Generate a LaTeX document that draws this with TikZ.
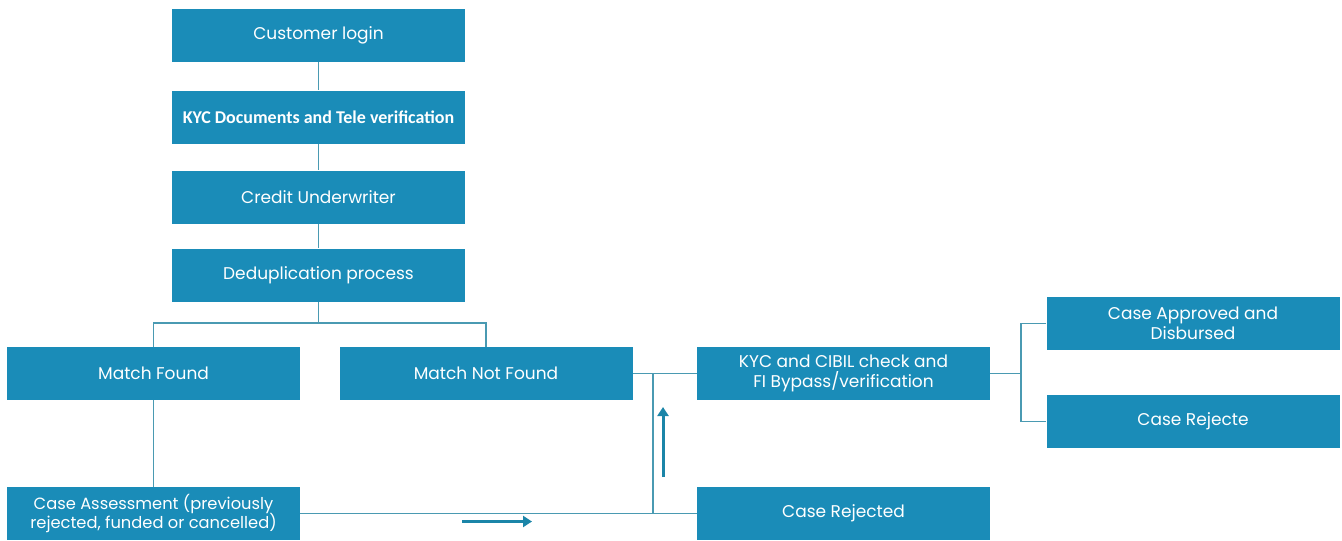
\documentclass[tikz,border=0pt]{standalone}
\usepackage{fontspec}
\setmainfont{Poppins}
\newfontfamily\calibri{Carlito}
\usetikzlibrary{arrows.meta}
\definecolor{cbox}{HTML}{1A8CB8}
\definecolor{cline}{HTML}{4A9AB2}
\definecolor{carrow}{HTML}{1B85A8}
\begin{document}
\begin{tikzpicture}[x=1pt, y=-1pt,
  stage/.style={fill=cbox, minimum width=293pt, minimum height=53pt, inner sep=0pt,
    text=white, align=center, font=\fontsize{17}{20}\selectfont},
  link/.style={cline, line width=1.3pt},
  hint/.style={carrow, line width=3pt, -{Triangle[length=9pt, width=11pt]}}]
  \useasboundingbox (0,0) rectangle (1342,541);
  % main column
  \node[stage] (login)  at (318.5, 35.5) {Customer login};
  \node[stage, font=\calibri\bfseries\fontsize{18}{20}\selectfont] (kycdoc) at (318.5, 117) {KYC Documents and Tele verification};
  \node[stage] (credit) at (318.5, 197) {Credit Underwriter};
  \node[stage] (dedup)  at (318.5, 275) {Deduplication process};
  % match result
  \node[stage] (found)    at (153.5, 373.5) {Match Found};
  \node[stage] (notfound) at (486, 373.5) {Match Not Found};
  \node[stage, font=\fontsize{16.3}{20}\selectfont] (assess) at (153.5, 513.5) {Case Assessment (previously\\rejected, funded or cancelled)};
  \node[stage] (kyccibil) at (843.5, 373.5) {KYC and CIBIL check and\\FI Bypass/verification};
  \node[stage] (rejected) at (843.5, 513.5) {Case Rejected};
  \node[stage] (approved) at (1193, 323.5) {Case Approved and\\Disbursed};
  \node[stage] (rejecte)  at (1193, 421.5) {Case Rejecte};
  % connectors
  \draw[link] (login) -- (kycdoc);
  \draw[link] (kycdoc) -- (credit);
  \draw[link] (credit) -- (dedup);
  \coordinate (split) at (318.5, 323);
  \draw[link] (dedup.south) -- (split);
  \draw[link] (found.north) |- (split) -| (notfound.north);
  \draw[link] (found) -- (assess);
  \draw[link] (assess.east) -- (rejected.west);
  \draw[link] (notfound.east) -- (kyccibil.west);
  \coordinate (join) at (653, 373.5);
  \draw[link] (join) -- (join |- rejected.west);
  \coordinate (fork) at (1021, 373.5);
  \draw[link] (kyccibil.east) -- (fork);
  \draw[link] (approved.west) -| (fork) |- (rejecte.west);
  % direction marks
  \coordinate (upfrom) at (663, 477);
  \coordinate (upto) at (663, 407);
  \draw[hint] (upfrom) -- (upto);
  \coordinate (rightfrom) at (462, 521.5);
  \coordinate (rightto) at (532, 521.5);
  \draw[hint] (rightfrom) -- (rightto);
\end{tikzpicture}
\end{document}
